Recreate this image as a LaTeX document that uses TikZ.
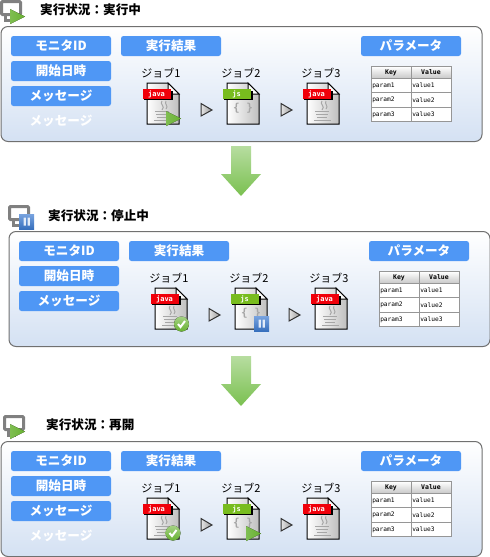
\documentclass[tikz,border=0pt]{standalone}
\usepackage{fontspec}
\setmainfont{Noto Sans CJK JP}
\newfontfamily\latinmono{DejaVu Sans Mono}
\definecolor{btnblue}{RGB}{79,151,245}
\definecolor{panelblue}{RGB}{212,225,243}
\definecolor{panelline}{RGB}{112,112,112}
\definecolor{playgreen}{RGB}{104,178,50}
\definecolor{jsgreen}{RGB}{120,188,30}
\definecolor{javared}{RGB}{240,0,10}
\definecolor{pauseblue}{RGB}{62,124,210}
\definecolor{tableline}{RGB}{150,150,150}
\definecolor{arrowtop}{RGB}{183,221,160}
\definecolor{arrowbottom}{RGB}{122,192,80}
\tikzset{
  panelbox/.style = {draw=panelline, line width=1pt, rounded corners=7pt,
                     top color=white, bottom color=panelblue},
  btn/.style      = {fill=btnblue, rounded corners=2.5pt, text=white, font=\fontsize{12.6}{12}\selectfont\bfseries,
                     minimum width=100pt, minimum height=20pt, inner sep=0pt},
  btnghost/.style = {text=white, font=\fontsize{12.6}{12}\selectfont\bfseries, inner sep=0pt},
  jobname/.style  = {font=\fontsize{11}{11}\selectfont, inner sep=0pt},
  heading/.style  = {font=\fontsize{12.6}{12}\selectfont\bfseries, anchor=west, inner sep=0pt},
  tagtext/.style  = {text=white, font=\latinmono\fontsize{7}{7}\selectfont\bfseries, inner sep=0pt},
  cell/.style     = {draw=tableline, fill=white, line width=1pt, font=\latinmono\fontsize{6.2}{7}\selectfont,
                     minimum width=40pt, text width=37.5pt, align=left, inner sep=0pt},
  headcell/.style = {cell, align=center, top color=white, bottom color=black!22,
                     font=\latinmono\fontsize{6.5}{7}\selectfont\bfseries},
  nextmark/.style = {draw=black!80, line width=1pt, left color=black!10, right color=black!40},
  % the file icon, with the tag colour and the tag text as arguments
  pics/jobfile/.style 2 args = {code={
    \draw[black, line width=1pt, left color=white, right color=black!25]
      (0,0) -- (21,0) -- (32,11) -- (32,41) -- (0,41) -- cycle;
    \draw[black, line width=1pt, fill=white] (21,0) -- (21,11) -- (32,11) -- cycle;
    \fill[black] (-3.5,7.5) rectangle (26,17);
    \node[tagtext, fill=#1, minimum width=28pt, minimum height=9.5pt] (tag) at (9.5,11) {#2};
  }},
  pics/coffee/.style = {code={
    \draw[black!35, line width=1pt] (15,18) .. controls (12,21) and (19,23) .. (15,27);
    \draw[black!35, line width=1pt] (19,18) .. controls (17,21) and (22,23) .. (19,26);
    \draw[black!35, line width=1pt] (8,28) -- (22,28) (9,31) -- (21,31) (10,34) -- (20,34) (7,37) -- (24,37);
  }},
  pics/playbadge/.style = {code={
    \fill[left color=playgreen!85, right color=playgreen] (0,0) -- (15,7.5) -- (0,15) -- cycle;
  }},
  pics/pausebadge/.style = {code={
    \fill[top color=pauseblue!70, bottom color=pauseblue!90!black] (0,0) rectangle (15,15);
    \fill[white!85!pauseblue] (4.5,3.5) rectangle (6.8,11.5) (8.6,3.5) rectangle (10.9,11.5);
  }},
  pics/checkbadge/.style = {code={
    \fill[top color=playgreen!60, bottom color=playgreen] (0,0) circle[radius=7.5];
    \draw[white, line width=2pt] (-3.5,0) -- (-1,3) -- (3.5,-3);
  }},
  pics/monitor/.style = {code={
    \draw[black!50, line width=3pt, rounded corners=1pt, fill=white] (1.5,1.5) rectangle (20.5,14.5);
    \draw[black!50, line width=3pt] (5,15) -- (5,20) -- (13,20);
  }},
  pics/bigdown/.style = {code={
    \shade[top color=arrowtop, bottom color=arrowbottom]
      (-10,0) -- (10,0) -- (10,28) -- (20,28) -- (0,50) -- (-20,28) -- (-10,28) -- cycle;
  }},
}
% everything a panel always shows, in panel 1 coordinates
\newcommand{\panelbase}{
  \node[panelbox, minimum width=481pt, minimum height=115pt] (frame) at (241.5,84) {};
  \node[btn] (monitorid) at (61,46) {モニタID};
  \node[btn] (started) at (61,71) {開始日時};
  \node[btn] (message) at (61,96) {メッセージ};
  \node[btn] (result) at (171,46) {実行結果};
  \node[btn] (params) at (411,46) {パラメータ};

  \node[jobname] (name1) at (161,73) {ジョブ1};
  \node[jobname] (name2) at (241,73) {ジョブ2};
  \node[jobname] (name3) at (321,73) {ジョブ3};

  \pic (job1) at (147,83) {jobfile={javared}{java}};
  \pic at (147,83) {coffee};
  \pic (job2) at (227,83) {jobfile={jsgreen}{js}};
  \node[text=black!35, font=\latinmono\fontsize{11}{11}\selectfont\bfseries, inner sep=0pt] (braces) at (243,108) {\{ \}};
  \pic (job3) at (307,83) {jobfile={javared}{java}};
  \pic at (307,83) {coffee};

  \draw[nextmark] (201,103.5) -- (212,110) -- (201,116) -- cycle;
  \draw[nextmark] (281,103.5) -- (292,110) -- (281,116) -- cycle;

  \node[headcell, minimum height=12pt] (key) at (391,72.5) {Key};
  \node[headcell, minimum height=12pt] (value) at (431,72.5) {Value};
  \foreach \n/\y in {1/85.5, 2/100, 3/114.5} {
    \node[cell, minimum height=14.5pt] (key\n) at (391,\y) {param\n};
    \node[cell, minimum height=14.5pt] (value\n) at (431,\y) {value\n};
  }
}

\begin{document}
\begin{tikzpicture}[x=1pt, y=-1pt]
  \useasboundingbox (0,0) rectangle (490,557);

  % running
  \pic at (0,0) {monitor};
  \pic at (10,9) {playbadge};
  \node[heading] (title1) at (40,10) {実行状況：実行中};
  \begin{scope}[name prefix=a-]
    \panelbase
    \node[btnghost] (ghost) at (61,121) {メッセージ};
    \pic at (166,111) {playbadge};
  \end{scope}

  \pic at (241,146) {bigdown};

  % stopped
  \pic at (8,205) {monitor};
  \pic at (19,214) {pausebadge};
  \node[heading] (title2) at (48,216) {実行状況：停止中};
  \begin{scope}[shift={(8,205)}, name prefix=b-]
    \panelbase
    \pic at (173.5,119) {checkbadge};
    \pic at (246,111) {pausebadge};
  \end{scope}

  \pic at (241,356) {bigdown};

  % resumed
  \pic at (3,415) {monitor};
  \pic at (10,424) {playbadge};
  \node[heading] (title3) at (46,425) {実行状況：再開};
  \begin{scope}[shift={(0,415)}, name prefix=c-]
    \panelbase
    \node[btnghost] (ghost) at (61,121) {メッセージ};
    \pic at (173,118) {checkbadge};
    \pic at (246,111) {playbadge};
  \end{scope}
\end{tikzpicture}
\end{document}
